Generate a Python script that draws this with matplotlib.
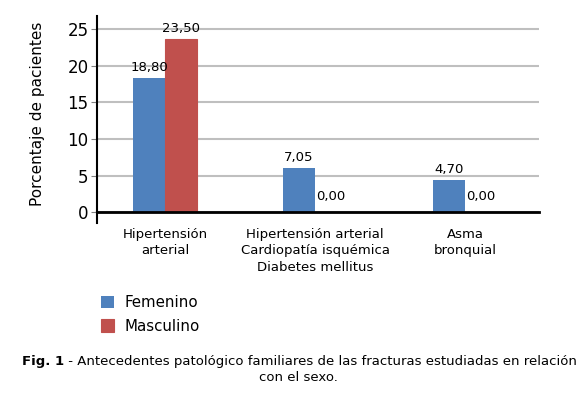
import matplotlib.pyplot as plt
import numpy as np

categories = ["Hipertensión\narterial",
              "Hipertensión arterial\nCardiopatía isquémica\nDiabetes mellitus",
              "Asma\nbronquial"]
femenino = [18.3, 6.0, 4.4]
masculino = [23.6, 0.0, 0.0]
fem_labels = ["18,80", "7,05", "4,70"]
masc_labels = ["23,50", "0,00", "0,00"]
yticks = [0, 5, 10, 15, 20, 25]

blue = "#4f81bd"
red = "#c0504d"

plt.rcParams["font.family"] = "DejaVu Sans"

fig = plt.figure(figsize=(5.88, 3.97), dpi=100)
ax = fig.add_axes([0.165, 0.4652, 0.7517, 0.4945])

x = np.arange(len(categories))
w = 0.213
b1 = ax.bar(x - w / 2, femenino, w, color=blue, label="Femenino", zorder=3)
b2 = ax.bar(x + w / 2, masculino, w, color=red, label="Masculino", zorder=3,
            edgecolor=red, linewidth=0.8)

for bars, labs in [(b1, fem_labels), (b2, masc_labels)]:
    for r, lab in zip(bars, labs):
        h = r.get_height()
        off = 7 if h == 0 else 3
        ax.annotate(lab, (r.get_x() + r.get_width() / 2, h),
                    xytext=(0, off), textcoords="offset points",
                    ha="center", va="bottom", fontsize=9.5)

ax.set_xlim(-0.453, 2.493)
ax.set_ylim(0, 26.8)
ax.set_yticks(yticks)
ax.tick_params(axis="y", labelsize=12, length=4, color="#808080", pad=2)
ax.set_xticks(x)
ax.set_xticklabels(categories, fontsize=9.5, linespacing=1.35)
ax.tick_params(axis="x", length=0, pad=11)
ax.yaxis.grid(True, color="#bfbfbf", linewidth=1.5, zorder=0)
ax.set_axisbelow(True)

for s in ["top", "right"]:
    ax.spines[s].set_visible(False)
ax.spines["left"].set_linewidth(1.5)
ax.spines["bottom"].set_linewidth(2)
ax.spines["bottom"].set_zorder(4)
# small tick below origin
ax.plot([0, 0], [0, -0.055], transform=ax.transAxes, color="black",
        linewidth=1.5, clip_on=False)

ax.set_ylabel("Porcentaje de pacientes", fontsize=11, labelpad=16)

ax.legend(loc="upper left", bbox_to_anchor=(0.148, 0.29), bbox_transform=fig.transFigure,
          frameon=False, fontsize=10.8, handlelength=0.9, handleheight=0.9,
          handletextpad=0.7, labelspacing=0.55, borderpad=0.4)

t = fig.text(0.037, 0.073, "Fig. 1", fontsize=9.5, fontweight="bold", va="bottom")
ax.annotate(" - Antecedentes patológico familiares de las fracturas estudiadas en relación",
            xy=(1, 0), xycoords=t, va="bottom", ha="left", fontsize=9.5)
fig.text(0.507, 0.033, "con el sexo.", fontsize=9.5, ha="center", va="bottom")

fig.savefig("out.png", dpi=100)
